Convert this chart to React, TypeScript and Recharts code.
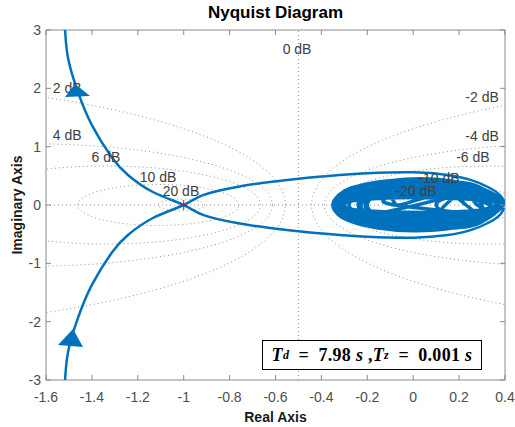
import React from 'react';
import {
  ComposedChart,
  Line,
  Scatter,
  XAxis,
  YAxis,
  ReferenceLine,
  ReferenceArea,
} from 'recharts';

/**
 * Nyquist diagram with M-circle grid (MATLAB style look)
 */

const W = 515;
const H = 427;
const PLOT = { left: 46, right: 505, top: 30, bottom: 380 };
const BLUE = '#0072BD';
const GRID = '#8c8c8c';
const FONT = '"Liberation Sans", Arial, Helvetica, sans-serif';

const xTicks = [-1.6, -1.4, -1.2, -1, -0.8, -0.6, -0.4, -0.2, 0, 0.2, 0.4];
const yTicks = [-3, -2, -1, 0, 1, 2, 3];

// constant closed-loop magnitude contours, in dB (0 dB is the line Re = -0.5)
const mLevelsDb = [20, 10, 6, 4, 2, -2, -4, -6, -10, -20];

const mLabels = [
  { text: '0 dB', x: -0.506, y: 2.676 },
  { text: '2 dB', x: -1.508, y: 2.0 },
  { text: '-2 dB', x: 0.3, y: 1.85 },
  { text: '4 dB', x: -1.508, y: 1.2 },
  { text: '-4 dB', x: 0.3, y: 1.18 },
  { text: '6 dB', x: -1.339, y: 0.82 },
  { text: '-6 dB', x: 0.26, y: 0.82 },
  { text: '10 dB', x: -1.112, y: 0.48 },
  { text: '-10 dB', x: 0.112, y: 0.465 },
  { text: '20 dB', x: -1.012, y: 0.24 },
  { text: '-20 dB', x: 0.012, y: 0.24 },
];

// branch entering from the top, through -1, back along the lower side
const branchTop = [
  { x: -1.525, y: 3.2 },
  { x: -1.517, y: 3.0 },
  { x: -1.504, y: 2.52 },
  { x: -1.461, y: 1.94 },
  { x: -1.4, y: 1.37 },
  { x: -1.312, y: 0.81 },
  { x: -1.243, y: 0.515 },
  { x: -1.134, y: 0.223 },
  { x: -1.0, y: 0 },
  { x: -0.916, y: -0.17 },
  { x: -0.768, y: -0.31 },
  { x: -0.624, y: -0.395 },
  { x: -0.48, y: -0.46 },
  { x: -0.32, y: -0.515 },
  { x: -0.2, y: -0.545 },
  { x: 0.0, y: -0.56 },
  { x: 0.15, y: -0.515 },
  { x: 0.25, y: -0.43 },
  { x: 0.33, y: -0.3 },
  { x: 0.38, y: -0.16 },
  { x: 0.395, y: -0.05 },
];

// branch entering from the bottom, through -1, back along the upper side
const branchBottom = [
  { x: -1.525, y: -3.2 },
  { x: -1.517, y: -3.0 },
  { x: -1.504, y: -2.52 },
  { x: -1.461, y: -1.94 },
  { x: -1.4, y: -1.37 },
  { x: -1.312, y: -0.81 },
  { x: -1.243, y: -0.515 },
  { x: -1.134, y: -0.223 },
  { x: -1.0, y: 0 },
  { x: -0.916, y: 0.17 },
  { x: -0.768, y: 0.31 },
  { x: -0.624, y: 0.395 },
  { x: -0.48, y: 0.46 },
  { x: -0.32, y: 0.515 },
  { x: -0.2, y: 0.545 },
  { x: 0.0, y: 0.56 },
  { x: 0.15, y: 0.515 },
  { x: 0.25, y: 0.43 },
  { x: 0.33, y: 0.3 },
  { x: 0.38, y: 0.16 },
  { x: 0.395, y: 0.05 },
];

// high-frequency loops piled up near the origin
const tangle = [
  { x: 0.395, y: 0.05 },
  { x: 0.283, y: 0.298 }, { x: 0.02, y: 0.42 }, { x: -0.243, y: 0.298 }, { x: -0.35, y: 0 },
  { x: -0.243, y: -0.298 }, { x: 0.02, y: -0.42 }, { x: 0.283, y: -0.298 }, { x: 0.36, y: 0.01 },
  { x: 0.264, y: 0.322 }, { x: 0.03, y: 0.45 }, { x: -0.204, y: 0.322 }, { x: -0.3, y: 0.01 },
  { x: -0.204, y: -0.302 }, { x: 0.03, y: -0.43 }, { x: 0.264, y: -0.302 }, { x: 0.3, y: -0.01 },
  { x: 0.213, y: 0.246 }, { x: 0, y: 0.35 }, { x: -0.213, y: 0.246 }, { x: -0.3, y: -0.01 },
  { x: -0.213, y: -0.266 }, { x: 0, y: -0.37 }, { x: 0.213, y: -0.266 }, { x: 0.3, y: 0 },
  { x: 0.228, y: 0.213 }, { x: 0.05, y: 0.3 }, { x: -0.128, y: 0.213 }, { x: -0.2, y: 0 },
  { x: -0.128, y: -0.213 }, { x: 0.05, y: -0.3 }, { x: 0.228, y: -0.213 }, { x: 0.3, y: 0 },
  { x: 0.207, y: 0.185 }, { x: -0.02, y: 0.26 }, { x: -0.247, y: 0.185 }, { x: -0.34, y: 0 },
  { x: -0.247, y: -0.185 }, { x: -0.02, y: -0.26 }, { x: 0.207, y: -0.185 }, { x: 0.36, y: 0.01 },
  { x: 0.273, y: 0.294 }, { x: 0.06, y: 0.41 }, { x: -0.153, y: 0.294 }, { x: -0.24, y: 0.01 },
  { x: -0.153, y: -0.274 }, { x: 0.06, y: -0.39 }, { x: 0.273, y: -0.274 }, { x: 0.23, y: 0 },
  { x: 0.166, y: 0.156 }, { x: 0.01, y: 0.22 }, { x: -0.146, y: 0.156 }, { x: -0.21, y: 0 },
  { x: -0.146, y: -0.156 }, { x: 0.01, y: -0.22 }, { x: 0.166, y: -0.156 }, { x: 0.39, y: -0.01 },
  { x: 0.289, y: 0.231 }, { x: 0.04, y: 0.33 }, { x: -0.209, y: 0.231 }, { x: -0.31, y: -0.01 },
  { x: -0.209, y: -0.251 }, { x: 0.04, y: -0.35 }, { x: 0.289, y: -0.251 }, { x: 0.38, y: 0 },
  { x: 0.34, y: 0.114 }, { x: 0.24, y: 0.16 }, { x: 0.14, y: 0.114 }, { x: 0.1, y: 0 },
  { x: 0.14, y: -0.114 }, { x: 0.24, y: -0.16 }, { x: 0.34, y: -0.114 }, { x: 0.3, y: 0.06 },
  { x: 0.1, y: 0.16 }, { x: -0.06, y: 0 }, { x: -0.1, y: 0.142 }, { x: -0.2, y: 0.2 },
  { x: -0.3, y: 0.142 }, { x: -0.34, y: 0 }, { x: -0.3, y: -0.142 }, { x: -0.2, y: -0.2 },
  { x: -0.1, y: -0.142 }, { x: 0.1, y: -0.2 }, { x: 0.38, y: 0 },
  { x: 0.276, y: 0.27 }, { x: 0.02, y: 0.38 }, { x: -0.236, y: 0.27 }, { x: -0.34, y: 0 },
  { x: -0.236, y: -0.27 }, { x: 0.02, y: -0.38 }, { x: 0.276, y: -0.27 }, { x: 0.36, y: 0 },
  { x: 0.33, y: 0.2 }, { x: 0.25, y: 0.36 }, { x: 0.1, y: 0.41 }, { x: -0.05, y: 0.41 },
  { x: -0.2, y: 0.33 }, { x: -0.3, y: 0.2 }, { x: -0.33, y: 0 }, { x: -0.3, y: -0.2 },
  { x: -0.2, y: -0.33 }, { x: -0.05, y: -0.41 }, { x: 0.1, y: -0.41 }, { x: 0.25, y: -0.36 },
  { x: 0.33, y: -0.2 }, { x: 0.37, y: 0.02 },
  { x: 0.33, y: 0.15 }, { x: 0.2, y: 0.3 }, { x: 0.05, y: 0.36 }, { x: -0.12, y: 0.33 },
  { x: -0.26, y: 0.22 }, { x: -0.32, y: 0.08 }, { x: -0.32, y: -0.1 }, { x: -0.26, y: -0.24 },
  { x: -0.12, y: -0.35 }, { x: 0.05, y: -0.38 }, { x: 0.2, y: -0.32 }, { x: 0.33, y: -0.17 },
  { x: 0.28, y: 0 }, { x: 0.24, y: 0.15 }, { x: 0.12, y: 0.24 }, { x: -0.02, y: 0.25 },
  { x: -0.15, y: 0.19 }, { x: -0.22, y: 0.06 }, { x: -0.22, y: -0.08 }, { x: -0.15, y: -0.2 },
  { x: -0.02, y: -0.26 }, { x: 0.12, y: -0.25 }, { x: 0.24, y: -0.15 }, { x: 0.39, y: 0.03 },
  { x: 0.36, y: 0.12 }, { x: 0.3, y: 0.25 }, { x: 0.18, y: 0.38 }, { x: 0.0, y: 0.43 },
  { x: -0.16, y: 0.39 }, { x: -0.28, y: 0.27 }, { x: -0.34, y: 0.1 }, { x: -0.34, y: -0.1 },
  { x: -0.28, y: -0.27 }, { x: -0.16, y: -0.39 }, { x: 0.0, y: -0.44 }, { x: 0.18, y: -0.39 },
  { x: 0.3, y: -0.26 }, { x: 0.36, y: -0.12 }, { x: 0.33, y: 0.0 },
  { x: 0.29, y: 0.18 }, { x: 0.17, y: 0.3 }, { x: 0.0, y: 0.33 }, { x: -0.16, y: 0.28 },
  { x: -0.27, y: 0.15 }, { x: -0.3, y: 0 }, { x: -0.27, y: -0.15 }, { x: -0.16, y: -0.28 },
  { x: 0.0, y: -0.33 }, { x: 0.17, y: -0.3 }, { x: 0.29, y: -0.18 }, { x: -0.08, y: 0.0 },
  { x: -0.12, y: 0.12 }, { x: -0.22, y: 0.17 }, { x: -0.3, y: 0.12 }, { x: -0.33, y: 0 },
  { x: -0.3, y: -0.12 }, { x: -0.22, y: -0.17 }, { x: -0.12, y: -0.12 }, { x: 0.12, y: 0.1 },
  { x: 0.25, y: 0.2 }, { x: 0.35, y: 0.1 }, { x: 0.38, y: 0 }, { x: 0.35, y: -0.1 },
  { x: 0.25, y: -0.2 }, { x: 0.12, y: -0.1 }, { x: 0.2, y: 0.34 }, { x: -0.1, y: 0.4 },
  { x: -0.3, y: 0.24 }, { x: -0.33, y: -0.05 }, { x: -0.25, y: -0.3 }, { x: -0.05, y: -0.42 },
  { x: 0.2, y: -0.36 }, { x: 0.39, y: 0 },
  { x: 0.286, y: 0.092 }, { x: 0.03, y: 0.13 }, { x: -0.226, y: 0.092 }, { x: -0.33, y: 0 },
  { x: -0.226, y: -0.092 }, { x: 0.03, y: -0.13 }, { x: 0.286, y: -0.092 }, { x: 0.37, y: 0 },
  { x: 0.269, y: 0.121 }, { x: 0.02, y: 0.17 }, { x: -0.229, y: 0.121 }, { x: -0.33, y: 0 },
  { x: -0.229, y: -0.121 }, { x: 0.02, y: -0.17 }, { x: 0.269, y: -0.121 }, { x: 0.38, y: 0 },
  { x: 0.281, y: 0.149 }, { x: 0.04, y: 0.21 }, { x: -0.201, y: 0.149 }, { x: -0.3, y: 0 },
  { x: -0.201, y: -0.149 }, { x: 0.04, y: -0.21 }, { x: 0.281, y: -0.149 }, { x: 0.34, y: 0 },
  { x: 0.241, y: 0.17 }, { x: 0, y: 0.24 }, { x: -0.241, y: 0.17 }, { x: -0.34, y: 0 },
  { x: -0.241, y: -0.17 }, { x: 0, y: -0.24 }, { x: 0.241, y: -0.17 }, { x: 0.38, y: 0 },
  { x: 0.284, y: 0.199 }, { x: 0.05, y: 0.28 }, { x: -0.184, y: 0.199 }, { x: -0.28, y: 0 },
  { x: -0.184, y: -0.199 }, { x: 0.05, y: -0.28 }, { x: 0.284, y: -0.199 }, { x: 0.38, y: 0 },
  { x: 0.276, y: 0.227 }, { x: 0.02, y: 0.32 }, { x: -0.236, y: 0.227 }, { x: -0.34, y: 0 },
  { x: -0.236, y: -0.227 }, { x: 0.02, y: -0.32 }, { x: 0.276, y: -0.227 }, { x: 0.38, y: 0 },
  { x: 0.279, y: 0.277 }, { x: 0.03, y: 0.39 }, { x: -0.219, y: 0.277 }, { x: -0.32, y: 0 },
  { x: -0.219, y: -0.277 }, { x: 0.03, y: -0.39 }, { x: 0.279, y: -0.277 }, { x: 0.39, y: -0.03 },
];

const arrowUpper = [{ x: -1.465, y: 1.92 }];
const arrowLower = [{ x: -1.491, y: -2.316 }];
const criticalPoint = [{ x: -1, y: 0 }];

/**
 * Points of one M-circle (closed-loop magnitude contour) for a level in dB
 */
function mCircle(db: number) {
  const m = Math.pow(10, db / 20);
  const c = -(m * m) / (m * m - 1);
  const r = Math.abs(m / (m * m - 1));
  const pts: { x: number; y: number }[] = [];
  for (let i = 0; i <= 360; i++) {
    const t = (i * Math.PI) / 180;
    pts.push({ x: c + r * Math.cos(t), y: r * Math.sin(t) });
  }
  return pts;
}

function XTick(props: any) {
  const { x, payload } = props;
  return (
    <g>
      <text x={x} y={PLOT.bottom + 22} textAnchor="middle" fontSize={14} fill="#4d4d4d" fontFamily={FONT}>
        {payload.value}
      </text>
      <line x1={x} x2={x} y1={PLOT.bottom} y2={PLOT.bottom - 5} stroke="#8a8a8a" />
      <line x1={x} x2={x} y1={PLOT.top} y2={PLOT.top + 5} stroke="#8a8a8a" />
    </g>
  );
}

function YTick(props: any) {
  const { y, payload } = props;
  return (
    <g>
      <text x={PLOT.left - 5} y={y + 5} textAnchor="end" fontSize={14} fill="#4d4d4d" fontFamily={FONT}>
        {payload.value}
      </text>
      <line x1={PLOT.left} x2={PLOT.left + 5} y1={y} y2={y} stroke="#8a8a8a" />
      <line x1={PLOT.right} x2={PLOT.right - 5} y1={y} y2={y} stroke="#8a8a8a" />
    </g>
  );
}

function UpperArrow(props: any) {
  const { cx, cy } = props;
  return (
    <polygon
      points={`${cx - 2},${cy - 9} ${cx - 12},${cy + 4} ${cx + 13},${cy + 3}`}
      fill={BLUE}
    />
  );
}

function LowerArrow(props: any) {
  const { cx, cy } = props;
  return (
    <polygon
      points={`${cx + 2},${cy - 11} ${cx - 13},${cy + 5} ${cx + 12},${cy + 7}`}
      fill={BLUE}
    />
  );
}

function CriticalMark(props: any) {
  const { cx, cy } = props;
  return (
    <g stroke="#ff0000" strokeWidth={1}>
      <line x1={cx} x2={cx} y1={cy - 5} y2={cy + 5} />
      <line x1={cx - 3} x2={cx + 3} y1={cy} y2={cy} />
    </g>
  );
}

function DbLabel(props: any) {
  const { cx, cy, payload } = props;
  return (
    <text x={cx} y={cy + 5} textAnchor="middle" fontSize={14} fill="#404040" fontFamily={FONT}>
      {payload.text}
    </text>
  );
}

const SUB = { fontSize: 12, fontStyle: 'italic' as const };

export default function App() {
  return (
    <div style={{ position: 'absolute', left: 0, top: 0, width: W, height: H, background: '#fff' }}>
      <div
        style={{
          position: 'absolute',
          left: PLOT.left,
          width: PLOT.right - PLOT.left,
          top: 2,
          textAlign: 'center',
          fontFamily: FONT,
          fontWeight: 'bold',
          fontSize: 17,
          lineHeight: '22px',
          color: '#000',
        }}
      >
        Nyquist Diagram
      </div>

      <ComposedChart
        width={W}
        height={H}
        margin={{ top: PLOT.top, right: W - PLOT.right, bottom: 0, left: 0 }}
      >
        <XAxis
          type="number"
          dataKey="x"
          domain={[-1.6, 0.4]}
          ticks={xTicks}
          interval={0}
          allowDataOverflow
          height={H - PLOT.bottom}
          axisLine={false}
          tickLine={false}
          tick={<XTick />}
          label={{
            value: 'Real Axis',
            position: 'insideBottom',
            offset: 5,
            style: { fontFamily: FONT, fontWeight: 'bold', fontSize: 14, fill: '#1a1a1a' },
          }}
        />
        <YAxis
          type="number"
          dataKey="y"
          domain={[-3, 3]}
          ticks={yTicks}
          interval={0}
          allowDataOverflow
          width={PLOT.left}
          axisLine={false}
          tickLine={false}
          tick={<YTick />}
          label={{
            content: () => (
              <text
                x={17}
                y={(PLOT.top + PLOT.bottom) / 2}
                transform={`rotate(-90 17 ${(PLOT.top + PLOT.bottom) / 2})`}
                textAnchor="middle"
                dominantBaseline="central"
                fontFamily={FONT}
                fontWeight="bold"
                fontSize={14}
                fill="#1a1a1a"
              >
                Imaginary Axis
              </text>
            ),
          }}
        />

        <ReferenceLine y={0} stroke={GRID} strokeDasharray="1 3" />
        <ReferenceLine x={-0.5} stroke={GRID} strokeDasharray="1 3" />
        {mLevelsDb.map((db) => (
          <Line
            key={`m-${db}`}
            data={mCircle(db)}
            dataKey="y"
            type="linear"
            stroke={GRID}
            strokeWidth={1}
            strokeDasharray="1 3"
            dot={false}
            activeDot={false}
            isAnimationActive={false}
          />
        ))}

        <Line
          data={branchTop}
          dataKey="y"
          type="natural"
          stroke={BLUE}
          strokeWidth={2.5}
          dot={false}
          activeDot={false}
          isAnimationActive={false}
        />
        <Line
          data={branchBottom}
          dataKey="y"
          type="natural"
          stroke={BLUE}
          strokeWidth={2.5}
          dot={false}
          activeDot={false}
          isAnimationActive={false}
        />
        <Line
          data={tangle}
          dataKey="y"
          type="natural"
          stroke={BLUE}
          strokeWidth={3.5}
          dot={false}
          activeDot={false}
          isAnimationActive={false}
        />

        <Scatter data={mLabels} shape={<DbLabel />} isAnimationActive={false} />

        <Scatter data={arrowUpper} shape={<UpperArrow />} isAnimationActive={false} />
        <Scatter data={arrowLower} shape={<LowerArrow />} isAnimationActive={false} />
        <Scatter data={criticalPoint} shape={<CriticalMark />} isAnimationActive={false} />

        <ReferenceArea x1={-1.6} x2={0.4} y1={-3} y2={3} fill="none" stroke="#8a8a8a" strokeWidth={1} />
      </ComposedChart>

      <div
        style={{
          position: 'absolute',
          left: 262,
          top: 340,
          width: 220,
          height: 30,
          boxSizing: 'border-box',
          border: '1.5px solid #000',
          background: '#fff',
          display: 'flex',
          alignItems: 'center',
          justifyContent: 'center',
          fontFamily: '"Liberation Serif", "DejaVu Serif", serif',
          fontWeight: 'bold',
          fontSize: 18,
          letterSpacing: 0.3,
          color: '#000',
          whiteSpace: 'pre',
        }}
      >
        <i>T</i>
        <sub style={SUB}>d</sub>
        {'\u2002=\u20027.98 '}
        <i>s</i>
        {' ,'}
        <i>T</i>
        <sub style={SUB}>z</sub>
        {'\u2002=\u20020.001 '}
        <i>s</i>
      </div>
    </div>
  );
}
